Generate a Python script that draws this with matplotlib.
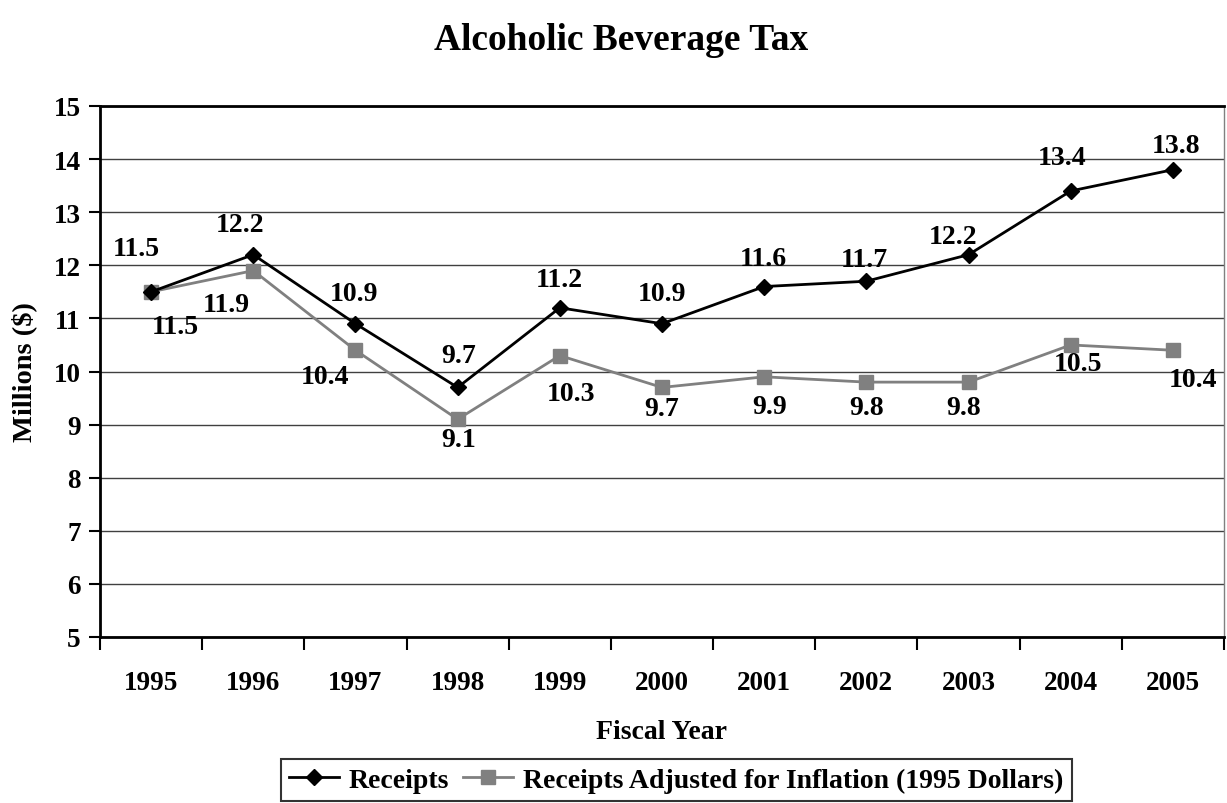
import matplotlib
matplotlib.use("Agg")
import matplotlib.pyplot as plt

years = ["1995", "1996", "1997", "1998", "1999", "2000", "2001", "2002", "2003", "2004", "2005"]
receipts = [11.5, 12.2, 10.9, 9.7, 11.2, 10.9, 11.6, 11.7, 12.2, 13.4, 13.8]
adjusted = [11.5, 11.9, 10.4, 9.1, 10.3, 9.7, 9.9, 9.8, 9.8, 10.5, 10.4]

# label offsets in pixels (dx, dy) relative to each point
rec_off = [(-15, 43), (-13, 30), (-1, 30), (1, 32), (-1, 28), (0, 30),
           (-1, 28), (-2, 22), (-15, 18), (-9, 33), (3, 24)]
adj_off = [(24, -35), (-27, -34), (-30, -26), (1, -20), (11, -38), (0, -21),
           (5, -30), (0, -25), (-5, -25), (7, -19), (20, -29)]

plt.rcParams['font.family'] = ['Liberation Serif', 'DejaVu Serif']
plt.rcParams['font.weight'] = 'bold'

fig = plt.figure(figsize=(12.27, 8.04), dpi=100)
ax = fig.add_axes([100 / 1227, 166 / 804, 1124 / 1227, 531 / 804])

x = list(range(len(years)))
ax.plot(x, receipts, color='black', lw=2, marker='D', ms=8, label='Receipts', zorder=4)
ax.plot(x, adjusted, color='#808080', lw=2, marker='s', ms=10,
        label='Receipts Adjusted for Inflation (1995 Dollars)', zorder=3)

for i in x:
    ax.annotate(f"{receipts[i]:.1f}", (i, receipts[i]), xytext=rec_off[i],
                textcoords='offset pixels', ha='center', va='center',
                fontsize=20, fontweight='bold')
    ax.annotate(f"{adjusted[i]:.1f}", (i, adjusted[i]), xytext=adj_off[i],
                textcoords='offset pixels', ha='center', va='center',
                fontsize=20, fontweight='bold')

ax.set_xlim(-0.5, len(years) - 0.5)
ax.set_ylim(5, 15)
ax.set_yticks(range(5, 16))
ax.set_xticks(x)
ax.set_xticklabels(years)
ax.set_xticks([i - 0.5 for i in range(len(years) + 1)], minor=True)
ax.tick_params(axis='x', which='major', length=0, pad=24, labelsize=19.5)
ax.tick_params(axis='x', which='minor', length=9, width=1.5, direction='out')
ax.tick_params(axis='y', length=8, width=1.5, direction='out', pad=6, labelsize=19.5)

ax.yaxis.grid(True, color='#404040', lw=1)
ax.set_axisbelow(True)
for s in ['left', 'bottom']:
    ax.spines[s].set_linewidth(2)
    ax.spines[s].set_color('black')
ax.spines['top'].set_linewidth(2)
ax.spines['top'].set_color('black')
ax.spines['right'].set_linewidth(1)
ax.spines['right'].set_color('#808080')

ax.set_xlabel('Fiscal Year', fontsize=20, fontweight='bold', labelpad=17)
ax.set_ylabel('Millions ($)', fontsize=20.5, fontweight='bold', labelpad=12)

fig.text(621 / 1227, 1 - 40 / 804, 'Alcoholic Beverage Tax', ha='center', va='center',
         fontsize=27, fontweight='bold')

leg = fig.legend(loc='lower left', bbox_to_anchor=(281 / 1227, 2 / 804), ncol=2,
                 frameon=True, fancybox=False, edgecolor='black', fontsize=20,
                 handlelength=1.8, handletextpad=0.35, columnspacing=0.5,
                 borderpad=0.3, borderaxespad=0)
leg.get_frame().set_linewidth(1.5)

fig.savefig('out.png', dpi=100)
